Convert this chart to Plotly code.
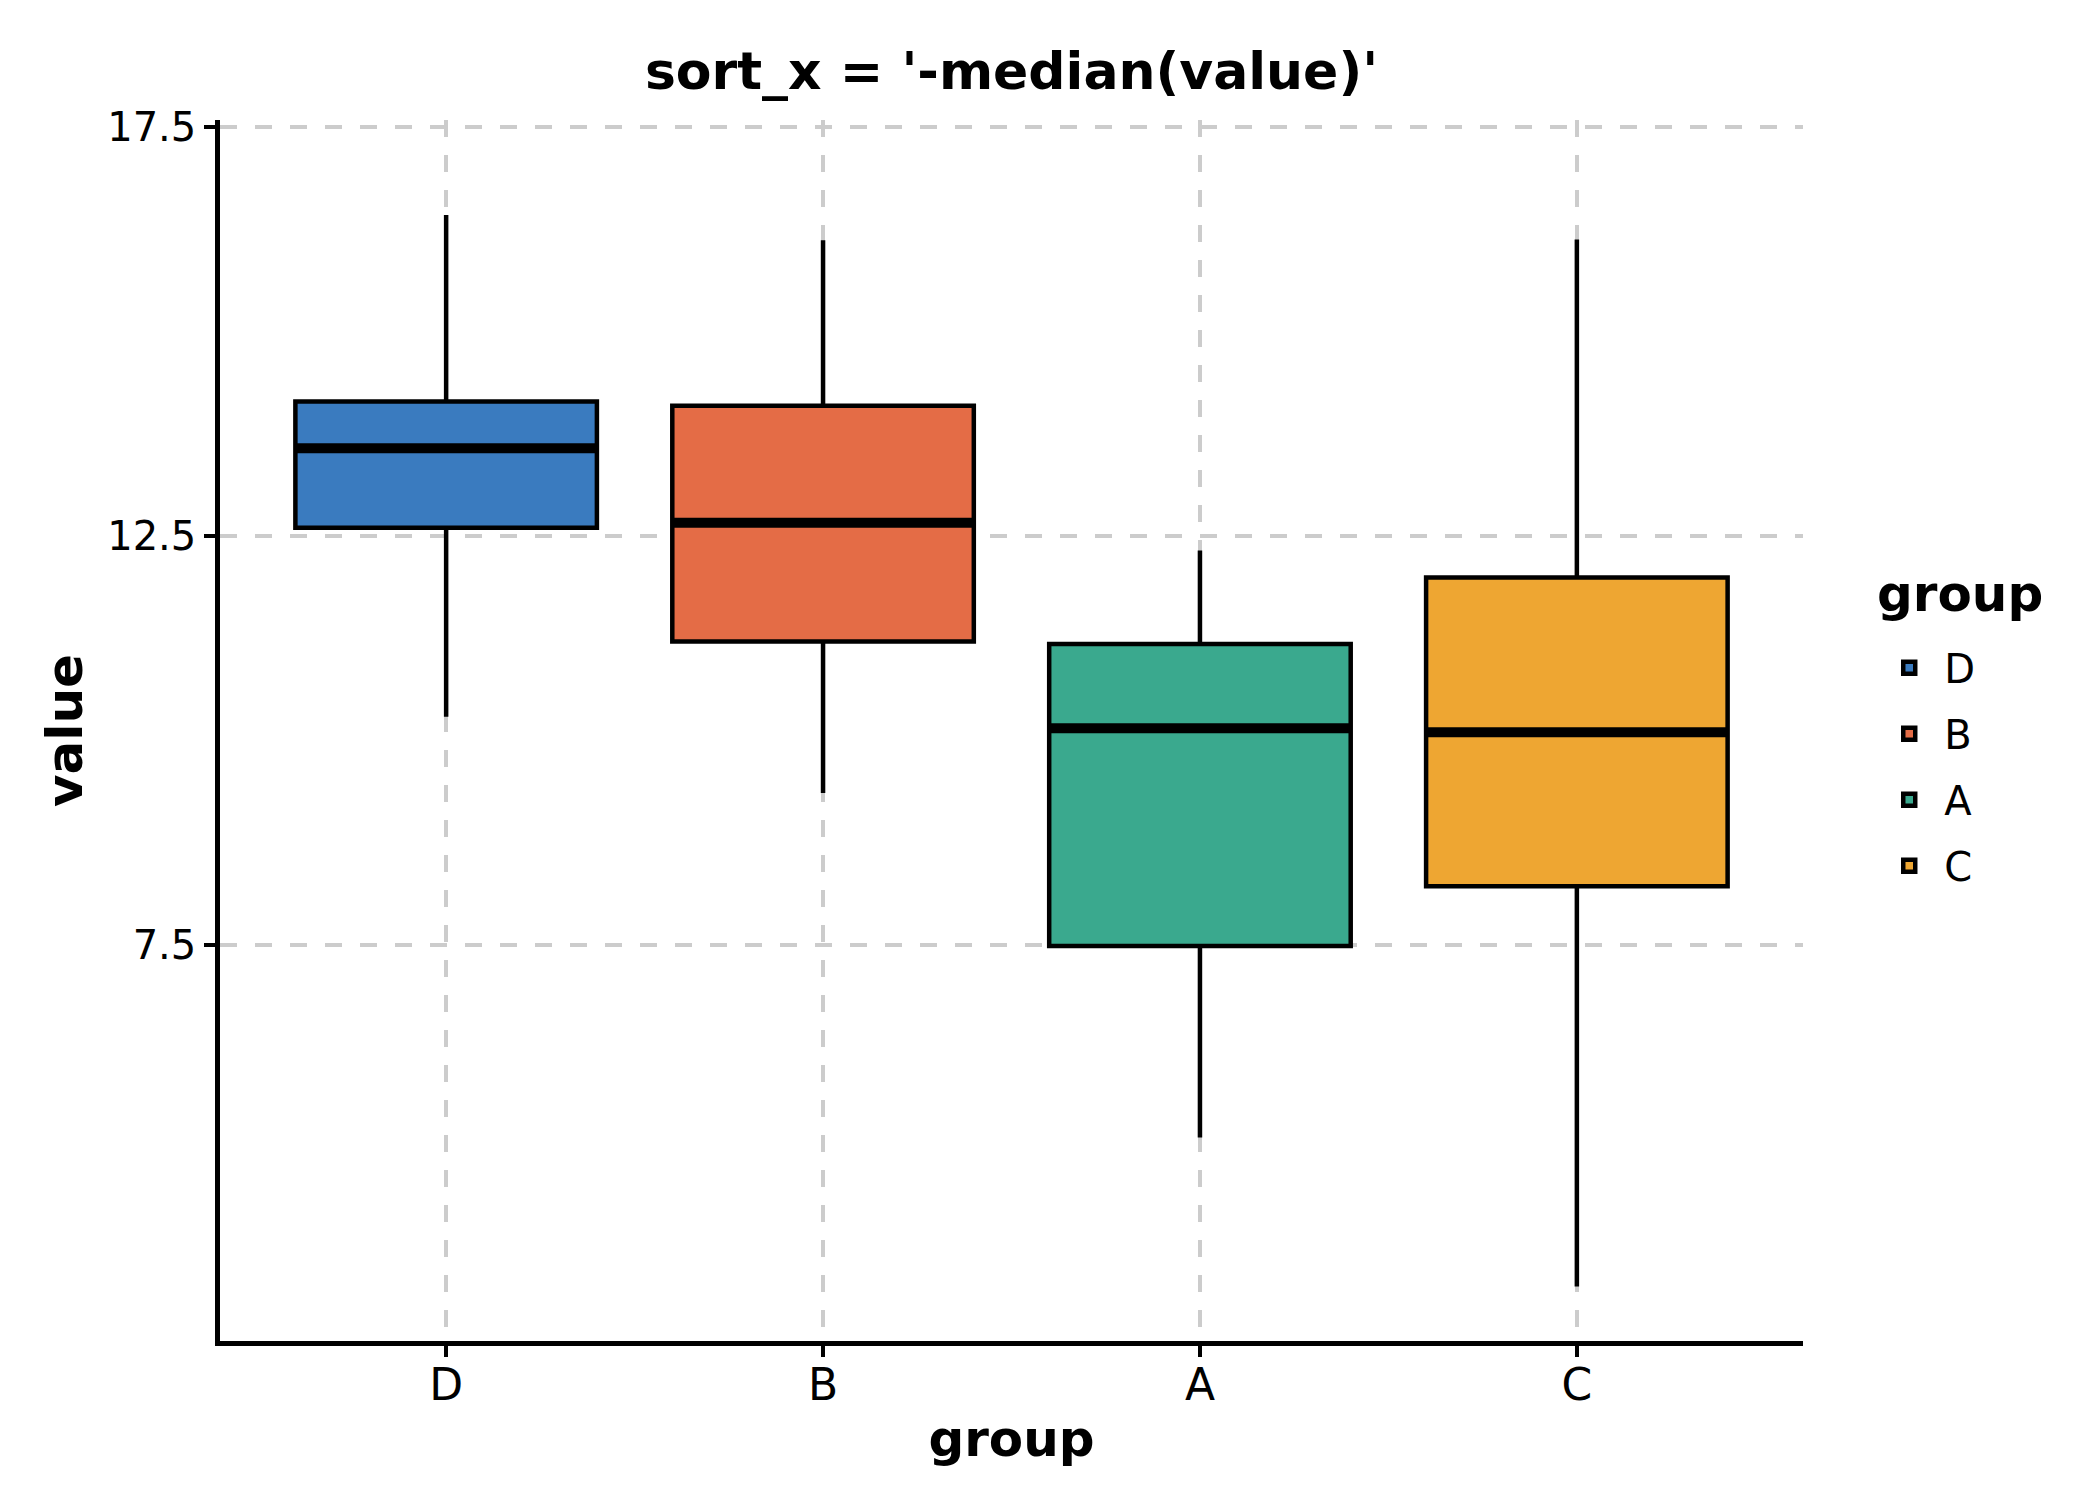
import plotly.graph_objects as go

groups = ["D", "B", "A", "C"]
lower_whisker = [10.29, 9.36, 5.15, 3.33]
q1 = [12.60, 11.21, 7.49, 8.22]
median = [13.57, 12.66, 10.15, 10.10]
q3 = [14.14, 14.09, 11.18, 11.99]
upper_whisker = [16.42, 16.11, 12.32, 16.12]
colors = ["#3a7bbf", "#e46c46", "#3aa98e", "#eea632"]
y_ticks = [7.5, 12.5, 17.5]

BOX_W = 0.8
FONT = "DejaVu Sans"

fig = go.Figure()
for i, g in enumerate(groups):
    fig.add_trace(go.Box(
        x=[i], q1=[q1[i]], median=[median[i]], q3=[q3[i]],
        lowerfence=[lower_whisker[i]], upperfence=[upper_whisker[i]],
        name=g, width=BOX_W, fillcolor=colors[i],
        line=dict(color="black", width=4.5), whiskerwidth=0,
        boxpoints=False, legendgroup=g,
    ))
for i, g in enumerate(groups):
    fig.add_trace(go.Scatter(
        x=[i - BOX_W / 2, i + BOX_W / 2], y=[median[i], median[i]],
        mode="lines", line=dict(color="black", width=10),
        showlegend=False, hoverinfo="skip", legendgroup=g,
    ))

fig.update_layout(
    width=2100, height=1500,
    paper_bgcolor="white", plot_bgcolor="white",
    margin=dict(l=212, r=305, t=112, b=167, autoexpand=False),
    font=dict(family=FONT, color="black"),
    boxmode="overlay",
    title=dict(text="<b>sort_x = '-median(value)'</b>", x=0.5, xref="paper",
               y=1 - 63 / 1500, yref="container", yanchor="middle",
               xanchor="center", font=dict(size=52, family=FONT)),
    legend=dict(
        font=dict(size=40, family=FONT),
        x=1.045, xanchor="left", y=0.578, yanchor="top",
        tracegroupgap=11, itemwidth=60,
        bgcolor="rgba(0,0,0,0)",
    ),
    showlegend=True,
    annotations=[dict(
        text="<b>group</b>", xref="paper", yref="paper",
        x=1.0455, y=0.6118, xanchor="left", yanchor="middle",
        showarrow=False, font=dict(size=50, family=FONT, color="black"),
    )],
)

fig.update_xaxes(
    range=[-0.6, 3.6], tickmode="array", tickvals=list(range(len(groups))),
    ticktext=groups, showline=True, linecolor="black", linewidth=4.5,
    ticks="outside", ticklen=11, tickwidth=4, tickcolor="black",
    ticklabelstandoff=-10,
    tickfont=dict(size=44, family=FONT), showgrid=True, gridcolor="#cccccc",
    gridwidth=3.5, griddash="17px,18px", zeroline=False,
    title=dict(text="<b>group</b>", font=dict(size=50, family=FONT), standoff=14),
)
fig.update_yaxes(
    range=[2.665, 17.58], tickmode="array", tickvals=y_ticks,
    ticktext=[str(v) for v in y_ticks], showline=True, linecolor="black",
    linewidth=4.5, ticks="outside", ticklen=11, tickwidth=4, tickcolor="black",
    tickfont=dict(size=40, family=FONT), showgrid=True, gridcolor="#cccccc",
    gridwidth=3.5, griddash="17px,18px", zeroline=False,
    title=dict(text="<b>value</b>", font=dict(size=50, family=FONT), standoff=10),
)

fig.write_html("out.html")
